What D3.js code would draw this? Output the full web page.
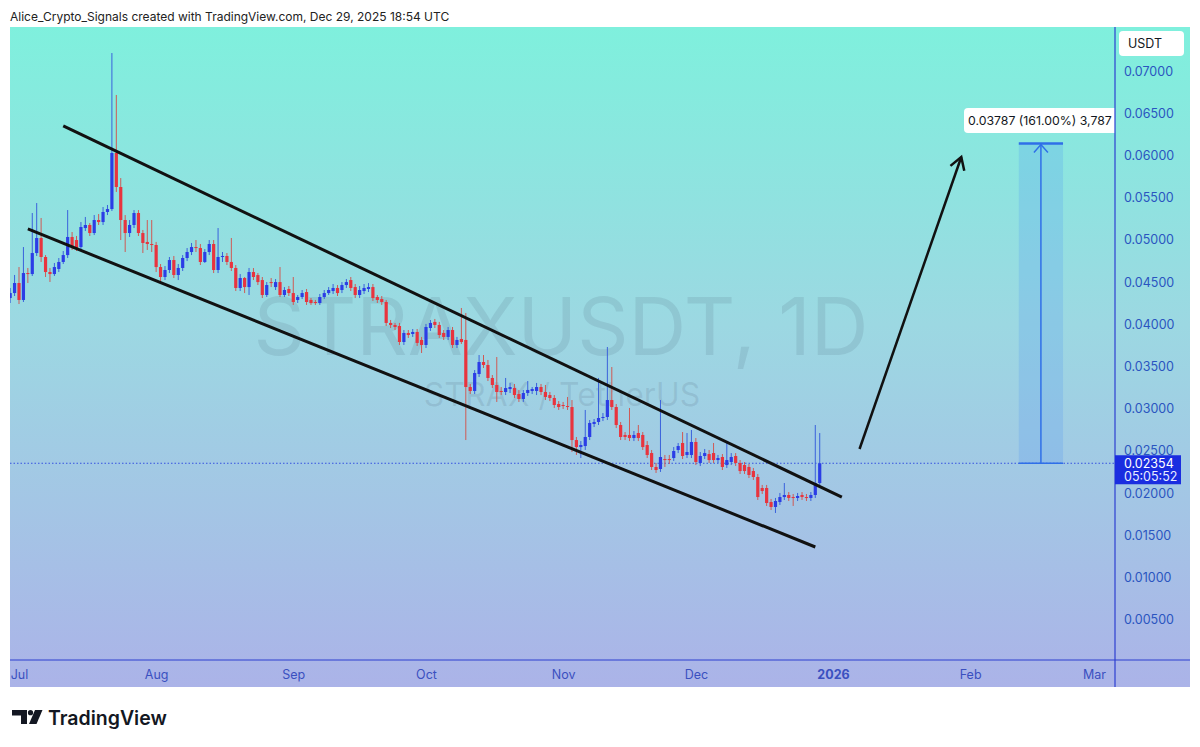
<!DOCTYPE html>
<html><head><meta charset="utf-8">
<script src="https://cdn.jsdelivr.net/npm/d3@7"></script>
<style>body{margin:0;background:#fff;}svg{display:block;font-family:Inter,"Noto Sans",sans-serif;}</style>
</head><body>
<svg id="c" width="1200" height="747"></svg>
<script>
const startDate = "2025-06-29";
// daily candles [open, high, low, close]
const ohlc = [
[.04311,.04430,.04252,.04370],[.04370,.04584,.04335,.04489],
[.04489,.04678,.04240,.04288],[.04288,.04915,.04264,.04607],[.04607,.04667,.04489,.04595],[.04595,.05318,.04572,.04844],
[.04844,.05436,.04809,.05022],[.05022,.05259,.04738,.04797],[.04797,.04820,.04560,.04619],[.04619,.04667,.04501,.04595],
[.04595,.04726,.04572,.04678],[.04655,.04785,.04619,.04738],[.04738,.04868,.04714,.04820],[.04820,.05353,.04785,.05034],
[.05034,.05093,.04880,.04915],[.04998,.05046,.04868,.04903],[.04915,.05211,.04880,.05152],[.05140,.05271,.05105,.05176],
[.05176,.05199,.05046,.05081],[.05081,.05294,.05057,.05235],[.05235,.05306,.05176,.05211],[.05211,.05389,.05176,.05330],
[.05330,.05413,.05294,.05365],[.05365,.07213,.05342,.06029],[.06029,.06716,.05567,.05626],[.05626,.05732,.04998,.05235],
[.05235,.05294,.04856,.05081],[.05081,.05235,.05034,.05176],[.05176,.05353,.05140,.05318],[.05318,.05353,.05046,.05081],
[.05081,.05117,.04844,.04963],[.04975,.05235,.04880,.04951],[.04951,.05235,.04856,.04939],
[.04939,.04975,.04619,.04678],[.04678,.04714,.04501,.04560],[.04560,.04690,.04524,.04643],[.04643,.04797,.04607,.04761],
[.04761,.04809,.04548,.04584],[.04584,.04714,.04524,.04667],[.04667,.04820,.04631,.04785],[.04785,.04903,.04749,.04856],
[.04856,.04963,.04820,.04915],[.04915,.04998,.04856,.04903],[.04903,.04951,.04702,.04738],[.04738,.04891,.04726,.04856],
[.04856,.04998,.04820,.04951],[.04951,.04998,.04607,.04643],[.04643,.05140,.04607,.04797],[.04797,.04856,.04738,.04809],
[.04809,.04844,.04702,.04738],[.04738,.05022,.04631,.04667],[.04667,.04702,.04394,.04430],[.04430,.04595,.04394,.04548],
[.04548,.04560,.04370,.04441],[.04441,.04667,.04347,.04619],[.04619,.04666,.04524,.04560],[.04583,.04607,.04465,.04500],
[.04524,.04560,.04311,.04347],[.04347,.04500,.04323,.04465],[.04500,.04548,.04441,.04488],[.04441,.04536,.04406,.04500],
[.04500,.04678,.04323,.04347],[.04347,.04441,.04323,.04406],[.04418,.04453,.04335,.04370],
[.04370,.04560,.04229,.04264],[.04288,.04347,.04252,.04323],[.04323,.04406,.04299,.04370],[.04382,.04418,.04229,.04264],
[.04288,.04311,.04229,.04252],[.04264,.04288,.04229,.04252],[.04252,.04359,.04229,.04323],[.04323,.04406,.04299,.04370],
[.04370,.04441,.04347,.04406],[.04394,.04477,.04359,.04430],[.04430,.04465,.04335,.04370],[.04406,.04500,.04370,.04465],
[.04465,.04536,.04430,.04500],[.04524,.04560,.04394,.04430],[.04441,.04477,.04311,.04347],[.04347,.04453,.04311,.04406],
[.04394,.04477,.04359,.04430],[.04418,.04488,.04382,.04441],[.04441,.04477,.04276,.04311],[.04323,.04347,.04252,.04288],
[.04299,.04335,.04229,.04264],[.04264,.04288,.03980,.04016],[.04016,.04051,.03956,.03992],[.03992,.04016,.03932,.03968],
[.03980,.04016,.03755,.03790],[.03790,.03932,.03755,.03897],[.03897,.03932,.03838,.03873],[.03885,.03944,.03850,.03909],
[.03909,.03944,.03743,.03779],[.03814,.03850,.03660,.03755],
[.03755,.04004,.03719,.03968],[.03956,.04051,.03921,.04016],[.04028,.04063,.03956,.03992],[.03992,.04028,.03838,.03873],
[.03897,.03932,.03814,.03850],[.03850,.03968,.03814,.03932],[.03932,.03968,.03719,.03755],[.03755,.03850,.03719,.03814],
[.03826,.04193,.03767,.03790],[.03814,.04134,.02629,.03257],[.03257,.03293,.03174,.03210],[.03210,.03458,.03174,.03423],
[.03411,.03636,.03376,.03553],[.03553,.03636,.03482,.03518],[.03518,.03577,.03328,.03364],[.03364,.03399,.03245,.03281],
[.03281,.03612,.03080,.03198],[.03210,.03257,.03162,.03198],[.03198,.03364,.03162,.03245],[.03233,.03305,.03186,.03257],
[.03245,.03293,.03127,.03162],[.03174,.03222,.03080,.03115],[.03115,.03222,.03080,.03186],[.03186,.03328,.03151,.03222],
[.03210,.03257,.03174,.03233],[.03210,.03305,.03162,.03257],[.03257,.03293,.03162,.03198],[.03198,.03281,.03103,.03139],
[.03162,.03198,.03091,.03127],[.03127,.03162,.03009,.03044],[.03056,.03091,.02985,.03020],
[.03044,.03080,.02997,.03032],[.03032,.03139,.02985,.03020],[.03020,.03103,.02487,.02629],[.02629,.02665,.02452,.02546],
[.02546,.02617,.02416,.02570],[.02558,.02985,.02511,.02665],[.02665,.02866,.02629,.02831],[.02819,.02878,.02783,.02843],
[.02843,.03364,.02807,.02890],[.02890,.02949,.02854,.02902],[.02902,.03731,.02866,.03103],[.03103,.03494,.02985,.03020],
[.03020,.03056,.02771,.02807],[.02807,.02843,.02629,.02665],[.02689,.02724,.02629,.02665],[.02689,.03009,.02617,.02653],
[.02653,.02736,.02617,.02689],[.02712,.02807,.02617,.02653],[.02689,.02724,.02511,.02546],[.02570,.02617,.02416,.02452],
[.02475,.02511,.02274,.02310],[.02310,.02357,.02239,.02274],[.02286,.03103,.02251,.02428],[.02404,.02452,.02310,.02392],
[.02404,.02452,.02345,.02392],[.02416,.02546,.02381,.02499],[.02511,.02594,.02475,.02558],[.02594,.02724,.02404,.02440],
[.02452,.02712,.02416,.02487],[.02452,.02748,.02416,.02606],
[.02606,.02653,.02333,.02369],[.02357,.02487,.02321,.02440],[.02440,.02523,.02404,.02475],[.02463,.02511,.02357,.02392],
[.02475,.02594,.02357,.02392],[.02392,.02452,.02357,.02416],[.02428,.02463,.02274,.02310],[.02333,.02594,.02298,.02392],
[.02369,.02475,.02333,.02428],[.02440,.02475,.02321,.02357],[.02357,.02392,.02227,.02262],[.02333,.02369,.02227,.02262],
[.02310,.02345,.02179,.02215],[.02262,.02298,.02156,.02191],[.02191,.02227,.01919,.01954],[.02061,.02097,.01990,.02025],
[.02061,.02097,.01848,.01883],[.01895,.01931,.01800,.01836],[.01836,.01943,.01765,.01907],[.01895,.02002,.01860,.01954],
[.01954,.02120,.01919,.01978],[.01978,.02013,.01907,.01943],[.01954,.01990,.01848,.01943],[.01943,.02002,.01907,.01966],
[.01978,.02013,.01919,.01954],[.01954,.01990,.01907,.01943],[.01943,.02013,.01907,.01978],[.01978,.02807,.01943,.02120],
[.02120,.02712,.02085,.02354]
];
const priceTicks = [0.005,0.01,0.015,0.02,0.025,0.03,0.035,0.04,0.045,0.05,0.055,0.06,0.065,0.07];
const timeTicks = ["2025-07-01","2025-08-01","2025-09-01","2025-10-01","2025-11-01","2025-12-01","2026-01-01","2026-02-01","2026-03-01"];
const timeLabels = ["Jul","Aug","Sep","Oct","Nov","Dec","2026","Feb","Mar"];
const lastPrice = 0.02354;
const countdown = "05:05:52";
const channelUpper = [["2025-07-11",0.06349],["2026-01-03",0.01954]];
const channelLower = [["2025-07-03",0.05129],["2025-12-28",0.01362]];
const arrowLine = [["2026-01-07",0.02523],["2026-01-30",0.05981]];
const measure = {from:"2026-02-12", to:"2026-02-22", low:0.02354, high:0.06141};
const measureLabel = "0.03787 (161.00%) 3,787";
const headerText = "Alice_Crypto_Signals created with TradingView.com, Dec 29, 2025 18:54 UTC";

const P = d3.utcParse("%Y-%m-%d");
const svg = d3.select("#c");
const L = 10, R = 1190, T = 27, B = 687, AX = 1115, TY = 660;

const x = d3.scaleUtc().domain([P("2025-07-01"), P("2026-03-01")]).range([19, 1094]);
const y = d3.scaleLinear().domain([0, 0.07]).range([662, 71]);

const defs = svg.append("defs");
const g = defs.append("linearGradient").attr("id","bg").attr("x1",0).attr("x2",0).attr("y1",0).attr("y2",1);
g.append("stop").attr("offset","0%").attr("stop-color","#7ff0dd");
g.append("stop").attr("offset","45%").attr("stop-color","#9cd8e2");
g.append("stop").attr("offset","100%").attr("stop-color","#abb3e8");
defs.append("clipPath").attr("id","pane").append("rect").attr("x",L).attr("y",T).attr("width",AX-L).attr("height",TY-T);

svg.append("text").attr("x",10).attr("y",21).attr("font-size",12).attr("fill","#222").text(headerText);
svg.append("rect").attr("x",L).attr("y",T).attr("width",R-L).attr("height",B-T).attr("fill","url(#bg)");

// watermark
svg.append("text").attr("x",561).attr("y",355).attr("text-anchor","middle").attr("font-size",80)
  .attr("fill","rgba(60,70,95,0.12)").text("STRAXUSDT, 1D");
svg.append("text").attr("x",562).attr("y",406).attr("text-anchor","middle").attr("font-size",32)
  .attr("fill","rgba(60,70,95,0.12)").text("STRAX / TetherUS");

const pane = svg.append("g").attr("clip-path","url(#pane)");

// last price dotted line
pane.append("line").attr("x1",L).attr("x2",AX).attr("y1",y(lastPrice)).attr("y2",y(lastPrice))
  .attr("stroke","#3550e0").attr("stroke-width",1).attr("stroke-dasharray","1.5,2");

// candles
const day = d3.utcDay.offset;
const s0 = P(startDate);
const data = ohlc.map((d,i)=>({date:day(s0,i),o:d[0],h:d[1],l:d[2],c:d[3]}));
const cg = pane.append("g");
const cs = cg.selectAll("g").data(data).join("g");
cs.append("line").attr("x1",d=>x(d.date)).attr("x2",d=>x(d.date)).attr("y1",d=>y(d.h)).attr("y2",d=>y(d.l))
  .attr("stroke",d=>d.c>=d.o?"#3a62dc":"#cf5a55").attr("stroke-width",1);
cs.append("rect").attr("x",d=>x(d.date)-1.6).attr("width",3.2)
  .attr("y",d=>y(Math.max(d.o,d.c))).attr("height",d=>Math.max(1,Math.abs(y(d.o)-y(d.c))))
  .attr("fill",d=>d.c>=d.o?"#2b3de6":"#e8343e");

// channel lines
const ln = d3.line().x(d=>x(P(d[0]))).y(d=>y(d[1]));
pane.append("path").attr("d",ln(channelUpper)).attr("stroke","#111").attr("stroke-width",3).attr("fill","none");
pane.append("path").attr("d",ln(channelLower)).attr("stroke","#111").attr("stroke-width",3).attr("fill","none");

// arrow
const a0=[x(P(arrowLine[0][0])),y(arrowLine[0][1])], a1=[x(P(arrowLine[1][0])),y(arrowLine[1][1])];
pane.append("line").attr("x1",a0[0]).attr("y1",a0[1]).attr("x2",a1[0]).attr("y2",a1[1]).attr("stroke","#111").attr("stroke-width",2.5);
const ang=Math.atan2(a1[1]-a0[1],a1[0]-a0[0]), hl=14;
const w1=[a1[0]-hl*Math.cos(ang-0.55),a1[1]-hl*Math.sin(ang-0.55)], w2=[a1[0]-hl*Math.cos(ang+0.55),a1[1]-hl*Math.sin(ang+0.55)];
pane.append("path").attr("d",`M${w1}L${a1}L${w2}`).attr("stroke","#111").attr("stroke-width",2.5).attr("fill","none");

// measure box
const mx0=x(P(measure.from)), mx1=x(P(measure.to)), my0=y(measure.high), my1=y(measure.low), mc=(mx0+mx1)/2;
pane.append("rect").attr("x",mx0).attr("y",my0).attr("width",mx1-mx0).attr("height",my1-my0).attr("fill","rgba(70,140,245,0.2)");
pane.append("line").attr("x1",mx0).attr("x2",mx1).attr("y1",my0).attr("y2",my0).attr("stroke","#2f6fe8").attr("stroke-width",2.5);
pane.append("line").attr("x1",mx0).attr("x2",mx1).attr("y1",my1).attr("y2",my1).attr("stroke","#2f6fe8").attr("stroke-width",1.5);
pane.append("line").attr("x1",mc).attr("x2",mc).attr("y1",my0).attr("y2",my1).attr("stroke","#2f6fe8").attr("stroke-width",1.5);
pane.append("path").attr("d",`M${mc-7},${my0+9}L${mc},${my0+1}L${mc+7},${my0+9}`).attr("stroke","#2f6fe8").attr("stroke-width",1.5).attr("fill","none");
pane.append("rect").attr("x",964).attr("y",108).attr("width",160).attr("height",25).attr("rx",4).attr("fill","#fff");
pane.append("text").attr("x",968).attr("y",125).attr("font-size",12.3).attr("fill","#131722").text(measureLabel);

// separators
svg.append("line").attr("x1",AX).attr("x2",AX).attr("y1",T).attr("y2",B).attr("stroke","#2d3fd0").attr("stroke-width",1.2);
svg.append("line").attr("x1",L).attr("x2",R).attr("y1",TY).attr("y2",TY).attr("stroke","#2d3fd0").attr("stroke-width",1.2);

// price axis
const ya = svg.append("g").attr("transform",`translate(${AX},0)`)
  .call(d3.axisRight(y).tickValues(priceTicks).tickFormat(d3.format(".5f")).tickSize(0).tickPadding(9));
ya.select(".domain").remove();
ya.selectAll("text").attr("font-size",12.5).attr("fill","#2a55c0").attr("font-family","Inter,'Noto Sans',sans-serif");

// USDT box
svg.append("rect").attr("x",1119).attr("y",31).attr("width",65).attr("height",25).attr("rx",4).attr("fill","#fff");
svg.append("text").attr("x",1128).attr("y",48).attr("font-size",12.5).attr("fill","#131722").text("USDT");

// last price label
const ly=y(lastPrice);
svg.append("rect").attr("x",AX).attr("y",ly-8).attr("width",66).attr("height",29).attr("fill","#1a2de0");
svg.append("text").attr("x",1124).attr("y",ly+5).attr("font-size",12.5).attr("fill","#fff").text(d3.format(".5f")(lastPrice));
svg.append("text").attr("x",1124).attr("y",ly+18).attr("font-size",12.5).attr("fill","#e8ecff").text(countdown);

// time axis
const xa = svg.append("g").attr("transform",`translate(0,${TY})`)
  .call(d3.axisBottom(x).tickValues(timeTicks.map(P)).tickFormat((d,i)=>timeLabels[i]).tickSize(0).tickPadding(10));
xa.select(".domain").remove();
xa.selectAll("text").attr("font-size",12.5).attr("fill","#3a50c0").attr("font-family","Inter,'Noto Sans',sans-serif")
  .attr("font-weight",(d,i)=>timeLabels[i]==="2026"?700:400);

// logo
const lg = svg.append("g").attr("fill","#131722");
lg.append("path").attr("d","M12,710H27V724H21V715.5H12Z");
lg.append("circle").attr("cx",30.5).attr("cy",712.7).attr("r",2.6);
lg.append("path").attr("d","M35,710H42.5L36.5,724H29Z");
svg.append("text").attr("x",48).attr("y",725).attr("font-size",19.5).attr("font-weight",600).attr("fill","#131722").text("TradingView");
</script>
</body></html>
